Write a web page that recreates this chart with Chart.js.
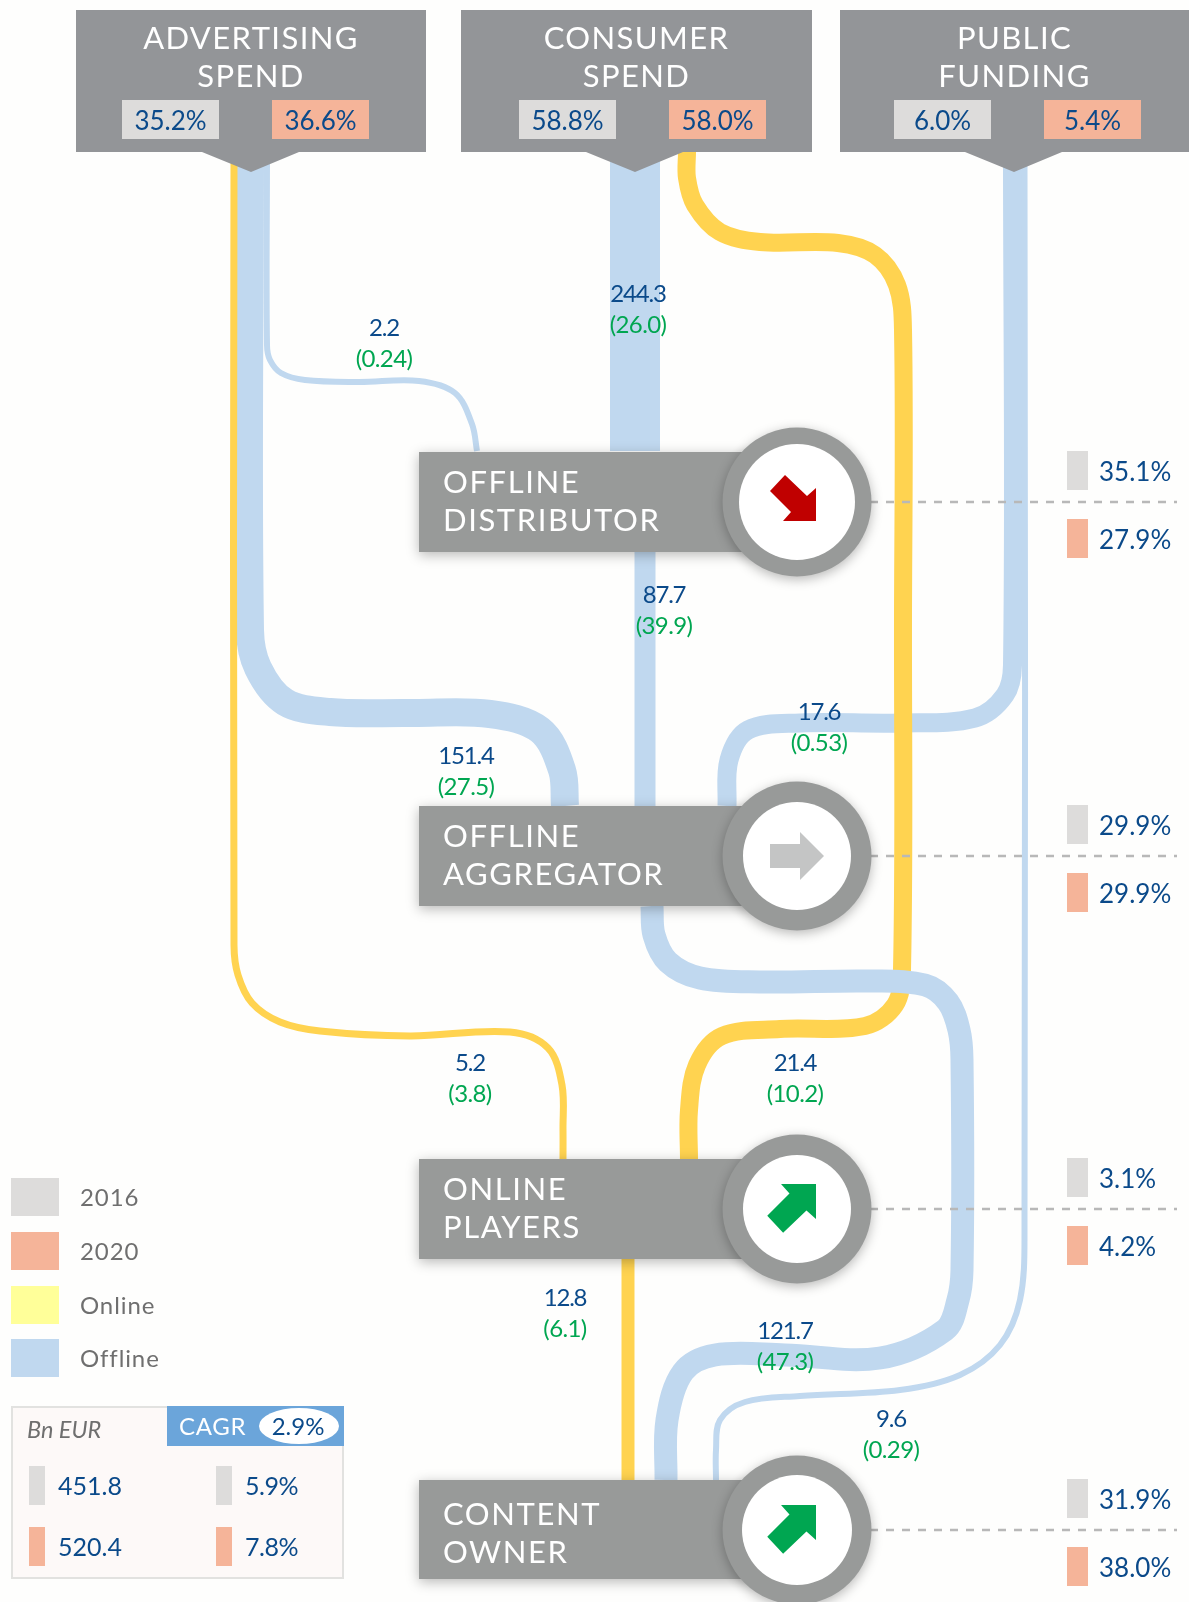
<!DOCTYPE html>
<html>
<head>
<meta charset="utf-8">
<title>Flows</title>
<script src="https://cdn.jsdelivr.net/npm/chart.js@4"></script>
<style>
  html, body { margin: 0; padding: 0; background: #fefefd; }
  canvas { display: block; }
</style>
</head>
<body>
<canvas id="flowChart" width="1189" height="1602"></canvas>
<script>
// Data
const sources = [["ADVERTISING", "SPEND"], ["CONSUMER", "SPEND"], ["PUBLIC", "FUNDING"]];
const sourceShare2016 = [35.2, 58.8, 6.0];
const sourceShare2020 = [36.6, 58.0, 5.4];

const nodes = [["OFFLINE", "DISTRIBUTOR"], ["OFFLINE", "AGGREGATOR"], ["ONLINE", "PLAYERS"], ["CONTENT", "OWNER"]];
const nodeShare2016 = [35.1, 29.9, 3.1, 31.9];
const nodeShare2020 = [27.9, 29.9, 4.2, 38.0];
const nodeTrend = ["down", "flat", "up", "up"];

const flowValues = [2.2, 244.3, 87.7, 151.4, 17.6, 5.2, 21.4, 12.8, 121.7, 9.6];
const flowOnline = [0.24, 26.0, 39.9, 27.5, 0.53, 3.8, 10.2, 6.1, 47.3, 0.29];

const legendNames = ["2016", "2020", "Online", "Offline"];
const totalBn = [451.8, 520.4];
const totalCagr = 2.9;
const yearCagr = [5.9, 7.8];

// Routes of the ribbons on the chart's x/y scales, bottom layer first
const route2_2 = [[267,152],[267,345],[270,360],[281,373],[305,380],[358,382],[419,381],[455,393],[472,424],[477,451]];
const route244 = [[635,152],[635,451]];
const route87 = [[645,552],[645,806]];
const route151 = [[250,152],[250,630],[258,668],[285,702],[330,712],[410,713],[490,714],[540,730],[562,770],[565,806]];
const route17 = [[1012.5,152],[1012.5,665],[1005,695],[975,718],[900,723],[800,723],[748,730],[729,760],[727,806]];
const route5 = [[234,152],[234,945],[238,975],[252,1003],[280,1022],[320,1031],[410,1036],[510,1032],[548,1048],[562,1085],[563,1130],[563,1160]];
const route21 = [[687,152],[687,178],[695,205],[720,232],[760,242],[838,243],[875,255],[897,285],[903,330],[903,620],[902,970],[895,1005],[865,1026],[780,1029],[722,1036],[697,1065],[689,1110],[689,1160]];
const route12 = [[628,1258],[628,1480]];
const route121 = [[652,906],[654,935],[668,962],[700,978],[760,982],[870,981],[925,985],[948,1002],[959,1030],[962,1060],[962,1270],[958,1300],[945,1330],[880,1358],[785,1355],[715,1355],[683,1372],[667,1420],[666,1480]];
const route9 = [[1024.5,152],[1024.5,1230],[1020,1300],[1000,1345],[960,1375],[900,1390],[800,1396],[745,1402],[720,1420],[716,1450],[716,1480]];

const BLUE = "#c0d8ef";
const YELLOW = "#ffd350";
const GREY16 = "#dddcdb";
const ORANGE = "#f5b499";
const NAVY = "#0b4a8a";
const GREEN = "#00a651";
const FONT = "Lato, sans-serif";

// Layers: [route, width, colour]
const ribbons = [
  [route2_2, 6, BLUE],
  [route244, 50, BLUE],
  [route87, 21, BLUE],
  [route151, 28, BLUE],
  [route17, 19, BLUE],
  [route9, 6, BLUE],
  [route5, 7, YELLOW],
  [route21, 18, YELLOW],
  [route12, 13, YELLOW],
  [route121, 23, BLUE]
];

// Layout
const sourceBoxes = [[76, 426, 251], [461, 812, 635], [840, 1189, 1014]];
const sourcePctX = [[122, 272], [519, 669], [894, 1044]];
const nodeY = [[452, 552, 502, 58, 1], [806, 906, 856, 54, 1], [1159, 1259, 1209, 54, 1], [1480, 1579, 1530, 55, 5]];
const labelXY = [[384,328],[638,294],[664,595],[466,756],[819,712],[470,1063],[795,1063],[565,1298],[785,1331],[891,1419]];
const legendY = [1178, 1232, 1286, 1339];
const legendColours = [GREY16, ORANGE, "#ffff99", BLUE];

function text(ctx, str, x, y, size, color, align, spacing, style) {
  ctx.font = (style || "") + " " + size + "px " + FONT;
  ctx.fillStyle = color;
  ctx.textAlign = align || "left";
  ctx.textBaseline = "middle";
  ctx.letterSpacing = (spacing || 0) + "px";
  ctx.fillText(str, x, y);
  ctx.letterSpacing = "0px";
}

function rect(ctx, x0, y0, x1, y1, color) {
  ctx.fillStyle = color;
  ctx.fillRect(x0, y0, x1 - x0, y1 - y0);
}

function poly(ctx, pts, color) {
  ctx.fillStyle = color;
  ctx.beginPath();
  pts.forEach((p, i) => (i ? ctx.lineTo(p[0], p[1]) : ctx.moveTo(p[0], p[1])));
  ctx.closePath();
  ctx.fill();
}

function drawTrend(ctx, kind, cx, cy) {
  if (kind === "flat") {
    poly(ctx, [[cx-27,cy-12],[cx+3,cy-12],[cx+3,cy-24],[cx+27,cy],[cx+3,cy+24],[cx+3,cy+12],[cx-27,cy+12]], "#c4c5c5");
    return;
  }
  const up = kind === "up";
  const dir = up ? 1 : -1;
  const k = up ? 1.06 : 1;
  const ax = cx + 19, ay = up ? cy - 25 : cy + 19;
  const shape = [[0,0],[0,33],[-9,25],[-31,46],[-46,30],[-25,9],[-33,0]];
  poly(ctx, shape.map(p => [ax + k * p[0], ay + dir * k * p[1]]), up ? GREEN : "#c00000");
}

const overlay = {
  id: "overlay",
  afterDatasetsDraw(chart) {
    const ctx = chart.ctx;
    const X = v => chart.scales.x.getPixelForValue(v);
    const Y = v => chart.scales.y.getPixelForValue(v);
    ctx.save();

    // top boxes
    sources.forEach((lines, i) => {
      const [l, r, tip] = sourceBoxes[i];
      poly(ctx, [[X(l),Y(10)],[X(r),Y(10)],[X(r),Y(152)],[X(tip+48),Y(152)],[X(tip),Y(172)],[X(tip-49),Y(152)],[X(l),Y(152)]], "#939598");
      text(ctx, lines[0], X((l + r) / 2), Y(39), 31, "#fff", "center", 1.4);
      text(ctx, lines[1], X((l + r) / 2), Y(77), 31, "#fff", "center", 1.4);
      rect(ctx, X(sourcePctX[i][0]), Y(100), X(sourcePctX[i][0] + 97), Y(139), GREY16);
      rect(ctx, X(sourcePctX[i][1]), Y(100), X(sourcePctX[i][1] + 97), Y(139), ORANGE);
      text(ctx, sourceShare2016[i].toFixed(1) + "%", X(sourcePctX[i][0] + 48.5), Y(122), 26, NAVY, "center", 0);
      text(ctx, sourceShare2020[i].toFixed(1) + "%", X(sourcePctX[i][1] + 48.5), Y(122), 26, NAVY, "center", 0);
    });

    // nodes with their share columns
    nodes.forEach((lines, i) => {
      const [top, bottom, cy, inner, textDrop] = nodeY[i];
      ctx.strokeStyle = "#b8b8b8";
      ctx.lineWidth = 2.5;
      ctx.setLineDash([8, 8]);
      ctx.beginPath();
      ctx.moveTo(X(870), Y(cy));
      ctx.lineTo(X(1177), Y(cy));
      ctx.stroke();
      ctx.setLineDash([]);

      ctx.shadowColor = "rgba(0,0,0,0.28)";
      ctx.shadowBlur = 12;
      ctx.shadowOffsetY = 3;
      rect(ctx, X(419), Y(top), X(760), Y(bottom), "#989a99");
      ctx.fillStyle = "#989a99";
      ctx.beginPath();
      ctx.arc(X(797), Y(cy), 74.5, 0, Math.PI * 2);
      ctx.fill();
      ctx.shadowColor = "transparent";
      ctx.shadowBlur = 0;
      ctx.shadowOffsetY = 0;
      ctx.fillStyle = "#fff";
      ctx.beginPath();
      ctx.arc(X(797), Y(cy), inner, 0, Math.PI * 2);
      ctx.fill();
      drawTrend(ctx, nodeTrend[i], X(797), Y(cy));

      text(ctx, lines[0], X(443), Y(cy - 20 + textDrop), 31, "#fff", "left", 1.6);
      text(ctx, lines[1], X(443), Y(cy + 18 + textDrop), 31, "#fff", "left", 1.6);

      rect(ctx, X(1067), Y(cy - 51), X(1088), Y(cy - 12), GREY16);
      rect(ctx, X(1067), Y(cy + 17), X(1088), Y(cy + 56), ORANGE);
      text(ctx, nodeShare2016[i].toFixed(1) + "%", X(1099), Y(cy - 29), 26, NAVY, "left", 0);
      text(ctx, nodeShare2020[i].toFixed(1) + "%", X(1099), Y(cy + 39), 26, NAVY, "left", 0);
    });

    // flow labels
    flowValues.forEach((v, i) => {
      const [lx, ly] = labelXY[i];
      text(ctx, v.toFixed(1), X(lx), Y(ly), 24, NAVY, "center", -1.2);
      const o = flowOnline[i];
      text(ctx, "(" + o.toFixed(o < 1 ? 2 : 1) + ")", X(lx), Y(ly + 31), 24, GREEN, "center", -0.6);
    });

    // legend
    legendNames.forEach((name, i) => {
      rect(ctx, X(11), Y(legendY[i]), X(59), Y(legendY[i] + 38), legendColours[i]);
      text(ctx, name, X(80), Y(legendY[i] + 20), 24, "#6f6f6f", "left", 0.9);
    });

    // totals table
    rect(ctx, X(11), Y(1406), X(344), Y(1579), "#e2e2e0");
    rect(ctx, X(13), Y(1408), X(342), Y(1577), "#fdf9f8");
    rect(ctx, X(167), Y(1406), X(344), Y(1446), "#6ba5da");
    ctx.fillStyle = "#fff";
    ctx.beginPath();
    ctx.ellipse(X(299), Y(1426), 40, 18, 0, 0, Math.PI * 2);
    ctx.fill();
    text(ctx, "CAGR", X(179), Y(1427), 24, "#fff", "left", 0.7);
    text(ctx, totalCagr.toFixed(1) + "%", X(298), Y(1427), 24, NAVY, "center", 0);
    text(ctx, "Bn EUR", X(27), Y(1430), 23.5, "#6f6f6f", "left", 0, "italic");
    totalBn.forEach((v, i) => {
      const top = i ? 1527 : 1466;
      const c = i ? ORANGE : GREY16;
      rect(ctx, X(29), Y(top), X(45), Y(top + 39), c);
      rect(ctx, X(216), Y(top), X(232), Y(top + 39), c);
      text(ctx, v.toFixed(1), X(58), Y(top + 21), 25, NAVY, "left", 0);
      text(ctx, yearCagr[i].toFixed(1) + "%", X(245), Y(top + 21), 25, NAVY, "left", -0.5);
    });
    ctx.restore();
  }
};

new Chart(document.getElementById("flowChart").getContext("2d"), {
  type: "scatter",
  data: {
    datasets: ribbons.map((r, i) => ({
      label: "flow " + i,
      data: r[0].map(p => ({ x: p[0], y: p[1] })),
      showLine: true,
      borderColor: r[2],
      borderWidth: r[1],
      borderCapStyle: "butt",
      borderJoinStyle: "round",
      tension: 0.35,
      pointRadius: 0,
      order: ribbons.length - i
    }))
  },
  options: {
    responsive: false,
    animation: false,
    layout: { padding: 0 },
    plugins: { legend: { display: false }, tooltip: { enabled: false } },
    scales: {
      x: { type: "linear", min: 0, max: 1189, display: false },
      y: { type: "linear", min: 0, max: 1602, reverse: true, display: false }
    }
  },
  plugins: [overlay]
});
</script>
</body>
</html>
